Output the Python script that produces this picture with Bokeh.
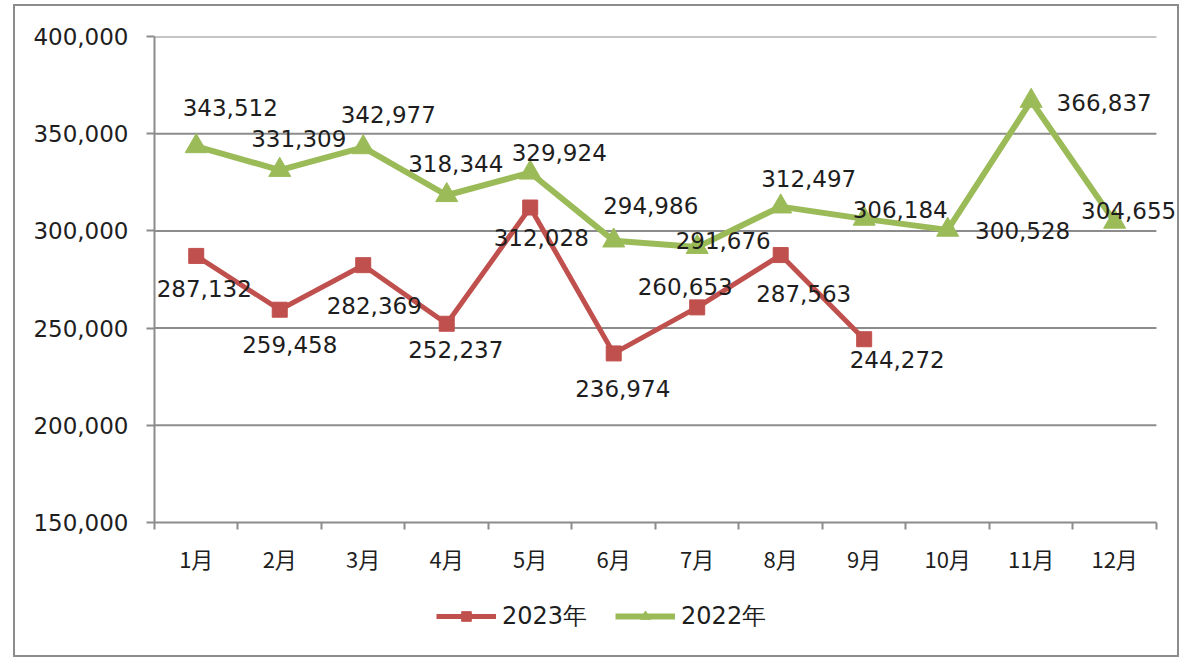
from bokeh.plotting import figure
from bokeh.layouts import column
from bokeh.models import (Range1d, LinearAxis, FixedTicker,
                          NumeralTickFormatter, ColumnDataSource, Legend, LegendItem)
from bokeh.core.properties import value
from bokeh.embed import file_html
from bokeh.resources import INLINE

months = ["1月", "2月", "3月", "4月", "5月", "6月", "7月", "8月", "9月", "10月", "11月", "12月"]
v2023 = [287132, 259458, 282369, 252237, 312028, 236974, 260653, 287563, 244272]
v2022 = [343512, 331309, 342977, 318344, 329924, 294986, 291676, 312497, 306184, 300528, 366837, 304655]
y_ticks = [150000, 200000, 250000, 300000, 350000, 400000]
series_names = ["2023年", "2022年"]

# label placement (screen px offsets from each point)
dx2022 = [34, 19, 25, 9, 29, 37, 26, 28, 36, 75, 73, 14]
dy2022 = [-39, -32, -33, -32, -20, -35, -7, -28, -9, 1, 2, -11]
dx2023 = [8, 10, 11, 9, 11, 9, -12, 23, 33]
dy2023 = [33, 35, 40, 26, 30, 35, -21, 38, 20]

RED = "#C0504D"
GREEN = "#9BBB59"
GRID = "#8C8C8C"
TXT = "#1e1e1e"
FONT = "DejaVu Sans"
CJK = "Noto Sans CJK SC"
BORDER = "2px solid #8C8C8C"

n = len(months)
pos = list(range(1, n + 1))                 # category slots on the x scale
bounds = [k + 0.5 for k in range(n + 1)]    # category boundaries
# frame spans a bit past the last category so labels at the right are not clipped
x_end = 0.5 + n * 1023 / 998

p = figure(width=1166, height=590, output_backend="svg", toolbar_location=None,
           x_range=Range1d(0.5, x_end), y_range=Range1d(150000, 400000),
           x_axis_location=None, y_axis_location=None,
           min_border_left=139, min_border_right=0, min_border_top=30, min_border_bottom=74)
p.styles = {"border-top": BORDER, "border-left": BORDER, "border-right": BORDER}
p.outline_line_color = None
p.background_fill_color = "white"
p.border_fill_color = "white"

# y axis
yax = LinearAxis(ticker=FixedTicker(ticks=y_ticks), formatter=NumeralTickFormatter(format="0,0"))
yax.axis_line_color = GRID
yax.axis_line_width = 2
yax.major_tick_line_color = GRID
yax.major_tick_line_width = 2
yax.major_tick_out = 8
yax.major_tick_in = 0
yax.minor_tick_line_color = None
yax.major_label_standoff = 18
yax.major_label_text_font = FONT
yax.major_label_text_font_size = "23px"
yax.major_label_text_color = TXT
p.add_layout(yax, "left")

# x axis: labels at category centres, tick marks between categories
xax = LinearAxis(ticker=FixedTicker(ticks=pos, minor_ticks=bounds),
                 major_label_overrides={k: m for k, m in zip(pos, months)},
                 bounds=(bounds[0], bounds[-1]))
xax.axis_line_color = GRID
xax.axis_line_width = 2
xax.major_tick_line_color = None
xax.major_tick_out = 7
xax.major_tick_in = 0
xax.minor_tick_line_color = GRID
xax.minor_tick_line_width = 2
xax.minor_tick_out = 7
xax.minor_tick_in = 0
xax.major_label_standoff = 12
xax.major_label_text_font = CJK
xax.major_label_text_font_size = "22px"
xax.major_label_text_color = TXT
p.add_layout(xax, "below")

# horizontal gridlines across the category span only
p.xgrid.grid_line_color = None
p.ygrid.grid_line_color = None
p.segment(x0=bounds[0], x1=bounds[-1], y0=y_ticks[1:], y1=y_ticks[1:],
          line_color=GRID, line_width=2)

s23 = ColumnDataSource(dict(x=pos[:len(v2023)], y=v2023, dx=dx2023, dy=dy2023,
                            t=[f"{v:,}" for v in v2023]))
s22 = ColumnDataSource(dict(x=pos, y=v2022, dx=dx2022, dy=dy2022,
                            t=[f"{v:,}" for v in v2022]))

p.line("x", "y", source=s23, line_color=RED, line_width=5)
p.scatter("x", "y", source=s23, marker="square", size=15, fill_color=RED, line_color=RED)
p.line("x", "y", source=s22, line_color=GREEN, line_width=6)
p.scatter("x", "y", source=s22, marker="triangle", size=22, fill_color=GREEN, line_color=GREEN)

for s in (s22, s23):
    p.text("x", "y", text="t", source=s, x_offset="dx", y_offset="dy",
           text_align="center", text_baseline="middle",
           text_font=value(FONT), text_font_size="23px", text_color=TXT)

# legend strip below the chart (series renderers re-used, out of view, only for legend swatches)
q = figure(width=1166, height=63, output_backend="svg", toolbar_location=None,
           x_range=Range1d(-2, -1), y_range=Range1d(-2, -1),
           x_axis_location=None, y_axis_location=None,
           min_border_left=0, min_border_right=0, min_border_top=0, min_border_bottom=0)
q.styles = {"border-bottom": BORDER, "border-left": BORDER, "border-right": BORDER}
q.outline_line_color = None
q.xgrid.grid_line_color = None
q.ygrid.grid_line_color = None
ql23 = q.line("x", "y", source=s23, line_color=RED, line_width=5)
qm23 = q.scatter("x", "y", source=s23, marker="square", size=15, fill_color=RED, line_color=RED)
ql22 = q.line("x", "y", source=s22, line_color=GREEN, line_width=6)
qm22 = q.scatter("x", "y", source=s22, marker="triangle", size=20, fill_color=GREEN, line_color=GREEN)

legend = Legend(items=[LegendItem(label=series_names[0], renderers=[ql23, qm23]),
                       LegendItem(label=series_names[1], renderers=[ql22, qm22])],
                orientation="horizontal", location=(282, 25))
legend.border_line_color = None
legend.background_fill_alpha = 0
legend.padding = 0
legend.margin = 0
legend.glyph_width = 60
legend.glyph_height = 24
legend.label_standoff = 6
legend.spacing = 28
legend.label_text_font = FONT
legend.label_text_font_size = "24px"
legend.label_text_color = TXT
q.add_layout(legend, "center")

root = column(p, q, spacing=0, styles={"margin-left": "13px", "margin-top": "4px"})
p_out = root
open("out.html", "w").write(file_html(p_out, INLINE))
